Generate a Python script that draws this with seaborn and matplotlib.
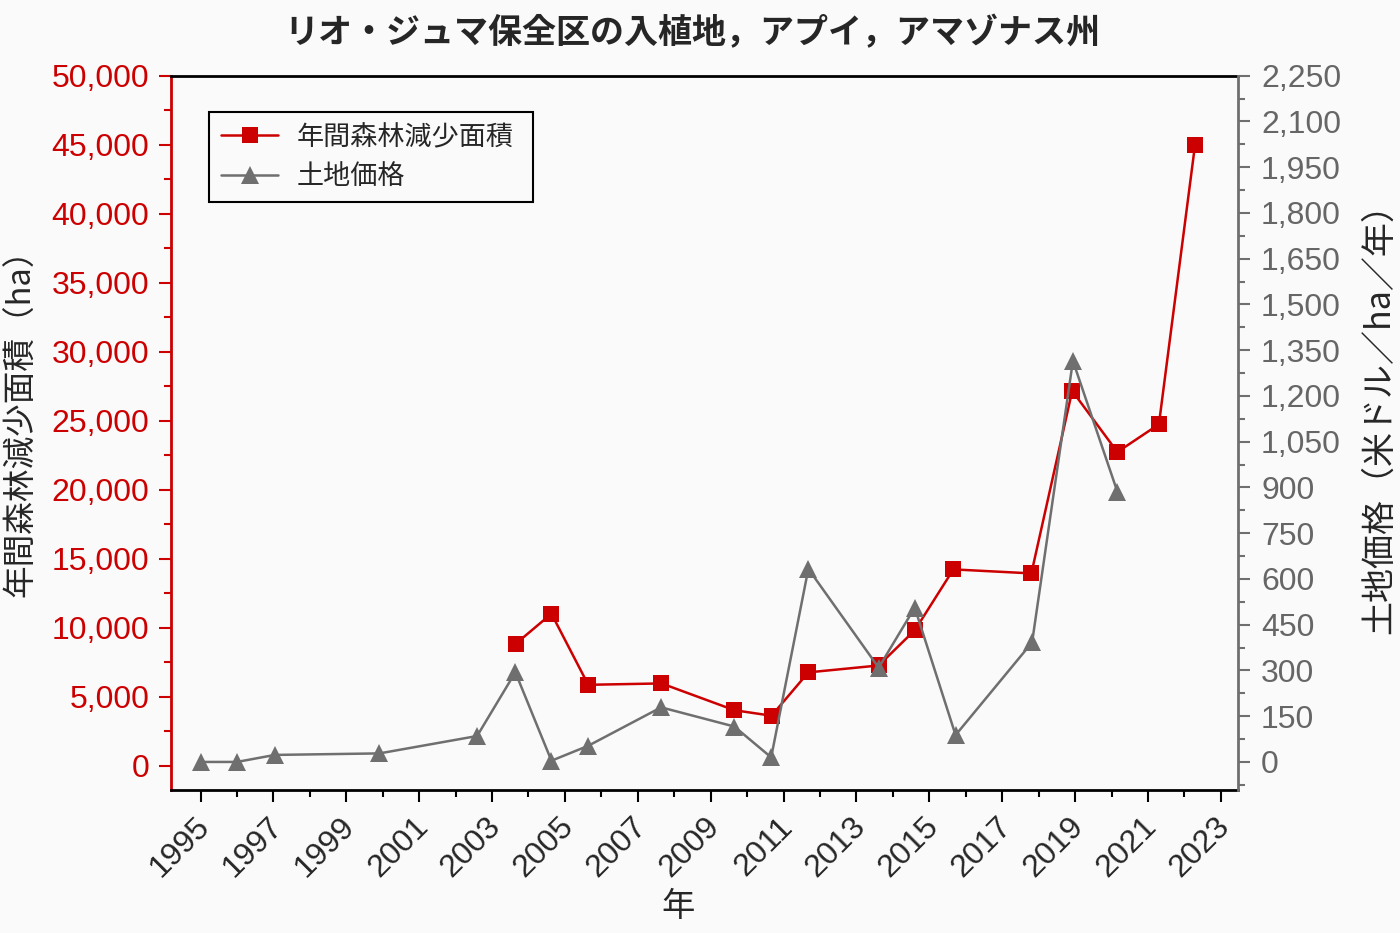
import matplotlib
matplotlib.use("Agg")
import matplotlib.pyplot as plt
import matplotlib.transforms as mtransforms
from matplotlib.ticker import MultipleLocator, StrMethodFormatter
import seaborn as sns

# data
forest_years = [2003.65, 2004.63, 2005.64, 2007.65, 2009.65, 2010.67, 2011.68, 2013.61,
                2014.61, 2015.66, 2017.80, 2018.92, 2020.16, 2021.30, 2022.29]
forest_loss_ha = [8850, 11030, 5880, 5980, 4040, 3640, 6780, 7280,
                  9860, 14240, 13950, 27170, 22740, 24750, 44960]

price_years = [1995.00, 1996.00, 1997.04, 1999.91, 2002.59, 2003.64, 2004.63, 2005.64, 2007.64,
               2009.65, 2010.66, 2011.68, 2013.61, 2014.60, 2015.72, 2017.82, 2018.94, 2020.16]
land_price = [0, 0, 23, 28, 85, 294, 4, 53, 179,
              116, 15, 633, 309, 506, 88, 392, 1315, 886]

year_ticks = list(range(1995, 2024, 2))

title = "リオ・ジュマ保全区の入植地，アプイ，アマゾナス州"
forest_label = "年間森林減少面積"
price_label = "土地価格"
left_ylabel = "年間森林減少面積（ha）"
right_ylabel = "土地価格（米ドル／ha／年）"
xlabel = "年"

RED = "#cc0000"
GRAY = "#6f6f6f"
BG = "#fafafa"

sns.set_theme(style="ticks")
plt.rcParams["font.family"] = ["Liberation Sans", "Noto Sans CJK JP", "DejaVu Sans"]
JP = ["Noto Sans CJK JP", "DejaVu Sans"]

fig = plt.figure(figsize=(14, 9.33), dpi=100, facecolor=BG)
ax = fig.add_axes([0.12214, 0.15327, 0.76214, 0.76559])
ax.set_facecolor(BG)
ax2 = ax.twinx()

sns.lineplot(x=forest_years, y=forest_loss_ha, ax=ax, color=RED, marker="s",
             markersize=11, markeredgecolor=RED, markeredgewidth=0, linewidth=1.8,
             label=forest_label, legend=False)
sns.lineplot(x=price_years, y=land_price, ax=ax2, color=GRAY, marker="^",
             markersize=13, markeredgecolor=GRAY, markeredgewidth=0, linewidth=1.8,
             label=price_label, legend=False)

ax.set_xlim(1994.19, 2023.47)
ax.set_ylim(-1740, 50000)
ax2.set_ylim(-92, 2250)

ax.set_xticks(year_ticks)
ax.xaxis.set_minor_locator(MultipleLocator(1))
ax.yaxis.set_major_locator(MultipleLocator(5000))
ax.yaxis.set_minor_locator(MultipleLocator(2500))
ax.yaxis.set_major_formatter(StrMethodFormatter("{x:,.0f}"))
ax2.yaxis.set_major_locator(MultipleLocator(150))
ax2.yaxis.set_minor_locator(MultipleLocator(75))
ax2.yaxis.set_major_formatter(StrMethodFormatter("{x:,.0f}"))

ax.tick_params(axis="x", which="major", length=8.6, width=1.5, color="black",
               labelsize=23, pad=7, labelrotation=45)
ax.tick_params(axis="x", which="minor", length=5, width=1.5, color="black")
ax.tick_params(axis="y", which="major", length=8.6, width=1.5, color=RED,
               labelcolor=RED, labelsize=23, pad=7)
ax.tick_params(axis="y", which="minor", length=5, width=1.5, color=RED)
ax2.tick_params(axis="y", which="major", length=8.6, width=1.5, color=GRAY,
                labelcolor="#666666", labelsize=23, pad=8)
ax2.tick_params(axis="y", which="minor", length=5, width=1.5, color=GRAY)

offset = mtransforms.ScaledTranslation(0.15, 0, fig.dpi_scale_trans)
for lab in ax.get_xticklabels():
    lab.set_horizontalalignment("right")
    lab.set_transform(lab.get_transform() + offset)

for side in ["top", "bottom"]:
    ax.spines[side].set_color("black")
    ax.spines[side].set_linewidth(2)
ax.spines["left"].set_color(RED)
ax.spines["left"].set_linewidth(2)
ax.spines["right"].set_visible(False)
for side in ["top", "bottom", "left"]:
    ax2.spines[side].set_visible(False)
ax2.spines["right"].set_color(GRAY)
ax2.spines["right"].set_linewidth(2)

ax.set_ylabel(left_ylabel, family=JP, fontsize=23.5, va="center")
ax.yaxis.set_label_coords(-0.1406, 0.525)
ax2.set_ylabel(right_ylabel, family=JP, fontsize=24.5, va="center", rotation=90)
ax2.yaxis.set_label_coords(1.133, 0.532)
ax.set_xlabel(xlabel, family=JP, fontsize=24, va="center")
ax.xaxis.set_label_coords(0.475, -0.163)

fig.text(692 / 1400, 1 - 33 / 933, title, family=JP, fontsize=24.5, fontweight="bold",
         ha="center", va="center")

h1, l1 = ax.get_legend_handles_labels()
h2, l2 = ax2.get_legend_handles_labels()
leg = ax2.legend(h1 + h2, l1 + l2, loc="upper left",
                 bbox_to_anchor=(0.0356, 0.0, 0.3037, 0.9496), mode="expand",
                 borderaxespad=0, prop={"family": JP, "size": 19.5}, frameon=True,
                 fancybox=False, edgecolor="black", facecolor=BG, framealpha=1,
                 handlelength=2.1, handletextpad=0.7, labelspacing=0.45, borderpad=0.45)
leg.get_frame().set_linewidth(1.5)

fig.savefig("out.png", dpi=100, facecolor=BG)
